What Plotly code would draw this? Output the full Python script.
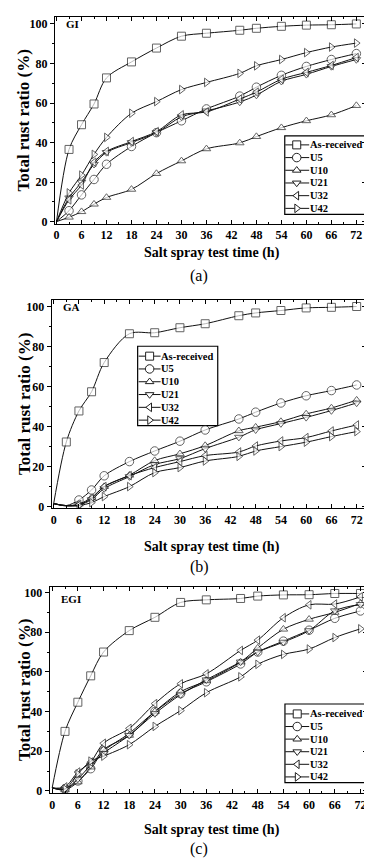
import plotly.graph_objects as go

W, H = 372, 861

hours = [0, 3, 6, 9, 12, 18, 24, 30, 36, 44, 48, 54, 60, 66, 72]
series_names = ["As-received", "U5", "U10", "U21", "U32", "U42"]

# GI
gi_asr = [0, 36.5, 49, 59.5, 72.7, 80.8, 87.8, 93.8, 95.3, 96.8, 97.8, 98.8, 99.4, 99.6, 100]
gi_u5 = [0, 5.5, 13.5, 21.3, 29, 38, 45, 51, 57, 63.5, 68, 74, 78.5, 82, 85]
gi_u10 = [0, 2.2, 5, 8.8, 12.2, 16.3, 24.3, 30.7, 36.8, 39.8, 43, 47.5, 51, 54, 58.7]
gi_u21 = [0, 12, 20, 29, 35, 40, 45, 53, 56, 60.5, 64, 71, 74.5, 78.5, 82]
gi_u32 = [0, 11, 18.5, 30, 35.5, 40.5, 45.5, 54, 55.5, 62, 65.5, 72, 75.5, 79, 83]
gi_u42 = [0, 14.5, 23.5, 34, 42.6, 54.8, 60.7, 66.8, 70.4, 75, 78.8, 82, 85.5, 88.3, 90.3]

# GA
ga_asr = [1.5, 32.3, 47.8, 57.4, 72, 86.4, 86.9, 89.4, 91.4, 95.4, 96.8, 98, 99.3, 99.6, 100]
ga_u5 = [1.5, 0.5, 3.3, 8.3, 15.4, 22.5, 27.8, 32.7, 38.3, 43.8, 47.2, 51.8, 55.4, 58, 60.8]
ga_u10 = [1.5, 0.5, 1.3, 4.5, 10, 15.7, 23, 26.4, 30.5, 37.9, 39.7, 42.5, 46.3, 49.3, 53.2]
ga_u21 = [1.5, 0.5, 0.8, 3.5, 9, 15, 21, 24, 29, 34.7, 38.4, 41.5, 44.6, 48, 51.8]
ga_u32 = [1.5, 0.5, 1, 4, 10, 15.5, 19.5, 22.5, 25.5, 27.3, 30.3, 32.8, 34.5, 37.8, 40.8]
ga_u42 = [1.5, 0.3, 0.5, 2, 5, 10, 17, 19.5, 22.8, 25.1, 27.8, 30, 32.2, 35, 37.5]

# EGI
egi_asr = [1.5, 30, 44.7, 58, 70, 80.8, 87.5, 95, 96.3, 97, 98.2, 98.8, 98.9, 99.5, 99.5]
egi_u5 = [1.5, 1, 5, 11.2, 20, 29, 40, 49, 55, 64, 70, 75.5, 81, 87, 90.7]
egi_u10 = [1.5, 0.5, 4.5, 12, 20.8, 28, 40, 50, 55.5, 65, 72, 81.5, 86.5, 90, 94.5]
egi_u21 = [1.5, 1, 6, 13, 19, 28, 39, 48.5, 56, 65, 70, 75, 80.8, 90.8, 94]
egi_u32 = [1.5, 2, 9.5, 14.5, 24, 31.5, 44, 54, 59, 70.8, 76, 87.3, 93.8, 94.2, 97.8]
egi_u42 = [1.5, 1, 8.5, 15, 17.5, 23.3, 32.5, 40.5, 49.5, 57.5, 63.8, 68.8, 71.5, 77.3, 81.7]

x_ticks = [0, 6, 12, 18, 24, 30, 36, 42, 48, 54, 60, 66, 72]
y_ticks = [0, 20, 40, 60, 80, 100]

# hours whose markers are not drawn (curve start), for As-received and for the others
hidden_asr = [[0], [0], [0]]
hidden_other = [[0], [0, 3], [0]]

panels = [
    ("GI", "(a)", [gi_asr, gi_u5, gi_u10, gi_u21, gi_u32, gi_u42]),
    ("GA", "(b)", [ga_asr, ga_u5, ga_u10, ga_u21, ga_u32, ga_u42]),
    ("EGI", "(c)", [egi_asr, egi_u5, egi_u10, egi_u21, egi_u32, egi_u42]),
]

symbols = ["square", "circle", "triangle-up", "triangle-down", "triangle-left", "triangle-right"]
msizes = [8, 8.5, 7.5, 7.5, 7.5, 7.5]

FONT = "Liberation Serif, Times New Roman, serif"
BOLD = dict(family=FONT, size=12, color="black", weight="bold")

def px(v):
    return v / W

def py(v):
    return 1 - v / H

frames = [
    dict(l=46, r=358.3, t=8.3, b=216.7, xr=[-0.4, 74.4], yr=[-1.2, 103.4]),
    dict(l=42.7, r=358.3, t=293.3, b=503.3, xr=[-0.5, 74.3], yr=[-0.8, 103.3]),
    dict(l=40.7, r=359.3, t=582.7, b=790.7, xr=[-0.6, 73.6], yr=[-1.2, 102.8]),
]
xtitle_y = [246, 542, 828]
cap_y = [269, 563, 847]
label_pos = [(55, 15), (52, 300), (50, 595)]
legends = [
    dict(box=(276.5, 358, 128, 207), x0=277, x1=301, xm=288.5, xt=301, y0=137, dy=12.8),
    dict(box=(129, 209.3, 340, 420), x0=130, x1=152, xm=141, xt=151.5, y0=350, dy=12.9),
    dict(box=(276.7, 357.3, 700.7, 780), x0=277, x1=301, xm=289, xt=300.5, y0=710.7, dy=12.7),
]

fig = go.Figure()
layout = dict(
    width=W, height=H, margin=dict(l=0, r=0, t=0, b=0),
    paper_bgcolor="white", plot_bgcolor="rgba(0,0,0,0)",
    showlegend=False, font=dict(family=FONT, color="black"),
)
annotations = []
shapes = []

for i, (name, cap, data) in enumerate(panels):
    n = i + 1
    fr = frames[i]
    xa = "x" if n == 1 else f"x{n}"
    ya = "y" if n == 1 else f"y{n}"
    for k, vals in enumerate(data):
        hid = hidden_asr[i] if k == 0 else hidden_other[i]
        sizes = [0 if h in hid else msizes[k] for h in hours]
        fig.add_trace(go.Scatter(
            x=hours, y=vals, mode="lines+markers", name=series_names[k],
            xaxis=xa, yaxis=ya,
            line=dict(color="#111", width=1, shape="spline", smoothing=0.9),
            marker=dict(symbol=symbols[k], size=sizes, color="white",
                        line=dict(color="#222", width=1)),
            showlegend=False,
        ))
    layout[f"xaxis{'' if n == 1 else n}"] = dict(
        domain=[px(fr["l"]), px(fr["r"])], range=fr["xr"], anchor=ya,
        tickmode="array", tickvals=x_ticks, ticks="inside", ticklen=4,
        tickwidth=1, tickcolor="black", mirror="ticks", showline=True,
        linecolor="black", linewidth=1, showgrid=False, zeroline=False,
        tickfont=BOLD, minor=dict(dtick=3, tick0=0, ticks="inside", ticklen=2,
                                  tickcolor="black", showgrid=False),
    )
    layout[f"yaxis{'' if n == 1 else n}"] = dict(
        domain=[py(fr["b"]), py(fr["t"])], range=fr["yr"], anchor=xa,
        tickmode="array", tickvals=y_ticks, ticks="outside", ticklen=4,
        tickwidth=1, tickcolor="black", mirror=True, showline=True,
        linecolor="black", linewidth=1, showgrid=False, zeroline=False,
        tickfont=BOLD, minor=dict(dtick=10, tick0=0, ticks="outside", ticklen=2,
                                  tickcolor="black", showgrid=False),
    )
    rn = n + 4
    fig.add_trace(go.Scatter(x=[], y=[], xaxis=xa, yaxis=f"y{rn}", showlegend=False))
    layout[f"yaxis{rn}"] = dict(
        overlaying=ya, side="right", anchor=xa, range=fr["yr"],
        tickmode="array", tickvals=y_ticks, ticks="inside", ticklen=4,
        tickcolor="black", showticklabels=False, showgrid=False, zeroline=False,
        showline=False,
        minor=dict(dtick=10, tick0=0, ticks="inside", ticklen=2, tickcolor="black",
                   showgrid=False),
    )
    annotations.append(dict(text="Salt spray test time (h)", x=px(204), y=py(xtitle_y[i]),
                            xref="paper", yref="paper", showarrow=False,
                            xanchor="center", yanchor="middle",
                            font=dict(family=FONT, size=14, color="black", weight="bold")))
    annotations.append(dict(text="Total rust ratio (%)", x=px(15), y=py((fr["t"] + fr["b"]) / 2),
                            xref="paper", yref="paper", showarrow=False, textangle=-90,
                            xanchor="center", yanchor="middle",
                            font=dict(family=FONT, size=17, color="black", weight="bold")))
    annotations.append(dict(text=cap, x=px(191), y=py(cap_y[i]), xref="paper", yref="paper",
                            showarrow=False, xanchor="center", yanchor="middle",
                            font=dict(family=FONT, size=16, color="black")))
    lx, ly = label_pos[i]
    annotations.append(dict(text=name, x=px(lx), y=py(ly), xref="paper", yref="paper",
                            showarrow=False, xanchor="left", yanchor="middle",
                            font=dict(family=FONT, size=11, color="black", weight="bold")))
    lg = legends[i]
    bl, br, bt, bb = lg["box"]
    shapes.append(dict(type="rect", xref="paper", yref="paper", x0=px(bl), x1=px(br),
                       y0=py(bb), y1=py(bt), line=dict(color="black", width=1.2),
                       fillcolor="white", layer="below"))
    for k in range(6):
        yy = lg["y0"] + k * lg["dy"]
        fig.add_trace(go.Scatter(
            x=[lg["x0"], lg["x1"]], y=[yy, yy], mode="lines", xaxis="x4", yaxis="y4",
            line=dict(color="#111", width=1), showlegend=False, hoverinfo="skip"))
        fig.add_trace(go.Scatter(
            x=[lg["xm"]], y=[yy], mode="markers", xaxis="x4", yaxis="y4",
            marker=dict(symbol=symbols[k], size=msizes[k], color="white",
                        line=dict(color="#222", width=1)),
            showlegend=False, hoverinfo="skip"))
        annotations.append(dict(text=series_names[k], x=px(lg["xt"]), y=py(yy),
                                xref="paper", yref="paper", showarrow=False,
                                xanchor="left", yanchor="middle", borderpad=0,
                                font=dict(family=FONT, size=10.5, color="black", weight="bold")))

layout["xaxis4"] = dict(domain=[0, 1], range=[0, W], visible=False, anchor="y4", fixedrange=True)
layout["yaxis4"] = dict(domain=[0, 1], range=[H, 0], visible=False, anchor="x4", fixedrange=True)
layout["annotations"] = annotations
layout["shapes"] = shapes
fig.update_layout(**layout)
fig.write_html("out.html")
